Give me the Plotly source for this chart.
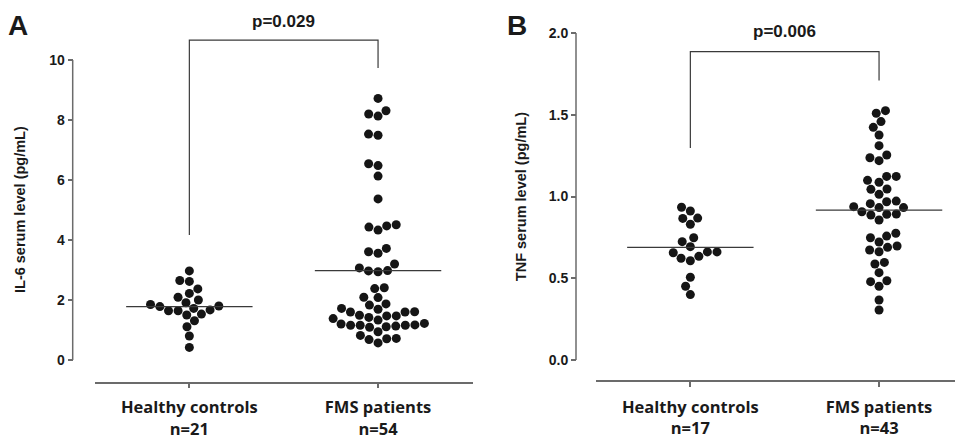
import numpy as np
import plotly.graph_objects as go

# ---------------- data ----------------
categories = ["Healthy controls", "FMS patients"]
il6_ticktext = ["Healthy controls<br>n=21", "FMS patients<br>n=54"]
tnf_ticktext = ["Healthy controls<br>n=17", "FMS patients<br>n=43"]

il6_healthy = [2.97, 2.65, 2.62, 2.37, 2.22, 2.09, 2.00, 1.91, 1.85, 1.80, 1.78,
               1.64, 1.53, 1.50, 1.64, 1.67, 1.72, 1.31, 1.11, 0.80, 0.42]
il6_fms = [8.72, 8.20, 8.13, 8.31, 7.49, 7.53, 6.54, 6.48, 6.13, 5.37,
           4.47, 4.33, 4.43, 4.51, 3.61, 3.56, 3.72, 3.20,
           2.98, 2.94, 2.97, 3.07, 2.38, 2.41, 2.08, 2.09,
           1.87, 1.72, 1.69, 1.83,
           1.61, 1.60, 1.49, 1.42, 1.33, 1.38, 1.47, 1.47, 1.60,
           1.22, 1.17, 1.16, 1.13, 1.09, 0.94, 1.11, 1.16, 1.16, 1.20,
           0.82, 0.71, 0.57, 0.68, 0.72]
tnf_healthy = [0.934, 0.911, 0.868, 0.866, 0.830, 0.724, 0.748, 0.693, 0.661,
               0.634, 0.607, 0.622, 0.656, 0.661, 0.506, 0.451, 0.400]
tnf_fms = [1.525, 1.509, 1.458, 1.423, 1.376, 1.311, 1.237, 1.219, 1.254,
           1.123, 1.087, 1.099, 1.123, 1.044, 1.013, 1.046,
           0.968, 0.938, 0.932, 0.932, 0.956, 0.972,
           0.893, 0.887, 0.856, 0.891, 0.907,
           0.758, 0.722, 0.748, 0.775, 0.697, 0.673, 0.662, 0.689,
           0.587, 0.597, 0.534, 0.485, 0.451, 0.479, 0.367, 0.306]

il6_medians = [1.78, 2.98]
tnf_medians = [0.689, 0.917]

il6_tickvals = [0, 2, 4, 6, 8, 10]
tnf_tickvals = [0.0, 0.5, 1.0, 1.5, 2.0]
tnf_ticklabels = ["0.0", "0.5", "1.0", "1.5", "2.0"]

p_texts = ["p=0.029", "p=0.006"]
# bracket: [left leg bottom, bar height, right leg bottom, text height]
il6_bracket = [4.17, 10.66, 9.73, 11.28]
tnf_bracket = [1.297, 1.886, 1.71, 2.01]

# ---------------- layout geometry (page pixels) ----------------
PAGE_W, PAGE_H = 963, 442
OFF = 8                      # default body margin of the html page
W, H = PAGE_W - OFF, PAGE_H - OFF
TXT = "#1a1a1a"
AX = "#6b6b6b"
DOT = "#151515"
DIAM = 9.6
MSIZE = 9
MED_HALF = 0.335


def px(xp):
    return (xp - OFF) / W


def py(yp):
    return 1 - (yp - OFF) / H


# panel A
A_x0, A_x1 = 95, 473          # x-axis line extent
A_yaxis_x = 72.7              # y axis position
A_zero_px, A_ppu = 360, 30.0  # pixel of value 0 and px per unit
A_bot_px, A_top_px = 381.7, 12
# panel B
B_x0, B_x1 = 596, 963
B_yaxis_x = 576
B_zero_px, B_ppu = 360, 163.5
B_bot_px, B_top_px = 380, 12
X_PPU = 188.7


def swarm_offsets(values, ppu_y, ppu_x, diam):
    vals = np.asarray(values, float)
    order = np.argsort(vals, kind="stable")
    placed = []
    xs = np.zeros(len(vals))
    for i in order:
        y = vals[i] * ppu_y
        cands = [0.0]
        for xj, yj in placed:
            dy = abs(y - yj)
            if dy < diam:
                dx = np.sqrt(diam ** 2 - dy ** 2)
                cands.extend([xj + dx, xj - dx])
        cands.sort(key=lambda c: (abs(c), c))
        chosen = 0.0
        for c in cands:
            if all((c - xj) ** 2 + (y - yj) ** 2 >= diam ** 2 - 1e-6 for xj, yj in placed):
                chosen = c
                break
        xs[i] = chosen / ppu_x
        placed.append((chosen, y))
    return xs


fig = go.Figure()


def add_group(vals, idx, ppu_y, xa, ya):
    off = swarm_offsets(vals, ppu_y, X_PPU, DIAM)
    fig.add_trace(go.Scatter(
        x=idx + off, y=vals, mode="markers", xaxis=xa, yaxis=ya,
        marker=dict(size=MSIZE, color=DOT, line=dict(width=0)),
        cliponaxis=False, hoverinfo="skip", showlegend=False))


add_group(il6_healthy, 0, A_ppu, "x", "y")
add_group(il6_fms, 1, A_ppu, "x", "y")
add_group(tnf_healthy, 0, B_ppu, "x2", "y2")
add_group(tnf_fms, 1, B_ppu, "x2", "y2")

shapes = []
annotations = []


def panel_extras(medians, bracket, ptxt, xr, yr, yaxis_x, tickmax, title, title_x, letter, letter_x):
    for i, m in enumerate(medians):
        shapes.append(dict(type="line", xref=xr, yref=yr, x0=i - MED_HALF, x1=i + MED_HALF,
                           y0=m, y1=m, line=dict(color="#3a3a3a", width=1.3)))
    lb, top, rb, ty = bracket
    shapes.append(dict(type="path", xref=xr, yref=yr,
                       path=f"M 0,{lb} L 0,{top} L 1,{top} L 1,{rb}",
                       line=dict(color="#3a3a3a", width=1.2)))
    # y axis line from 0 to max tick
    shapes.append(dict(type="line", xref="paper", yref=yr, x0=px(yaxis_x), x1=px(yaxis_x),
                       y0=0, y1=tickmax, line=dict(color=AX, width=1.5)))
    annotations.append(dict(text=f"<b>{ptxt}</b>", xref=xr, yref=yr, x=0.5, y=ty,
                            xanchor="center", yanchor="middle", showarrow=False,
                            font=dict(family="Liberation Sans", size=17, color=TXT)))
    annotations.append(dict(text=f"<b>{title}</b>", xref="paper", yref=yr, x=px(title_x),
                            y=tickmax / 2, textangle=-90, xanchor="center", yanchor="middle",
                            showarrow=False,
                            font=dict(family="Liberation Sans", size=14.5, color=TXT)))
    annotations.append(dict(text=f"<b>{letter}</b>", xref="paper", yref="paper",
                            x=px(letter_x), y=py(25), xanchor="center", yanchor="middle",
                            showarrow=False,
                            font=dict(family="Liberation Sans", size=28, color=TXT)))


panel_extras(il6_medians, il6_bracket, p_texts[0], "x", "y", A_yaxis_x, il6_tickvals[-1],
             "IL-6 serum level (pg/mL)", 20, "A", 17.5)
panel_extras(tnf_medians, tnf_bracket, p_texts[1], "x2", "y2", B_yaxis_x, tnf_tickvals[-1],
             "TNF serum level (pg/mL)", 521.7, "B", 517)

catfont = dict(family="Open Sans", size=16.5, color=TXT, weight="bold")
numfont = dict(family="Liberation Sans", size=14, color=TXT, weight="bold")

xcommon = dict(showline=True, linecolor=AX, linewidth=1.5, ticks="outside",
               ticklen=5, tickwidth=1.5, tickcolor=AX, showgrid=False, zeroline=False,
               tickvals=[0, 1], tickfont=catfont, fixedrange=True, automargin=False)
ycommon = dict(anchor="free", showline=False, ticks="outside", ticklen=5, tickwidth=1.5,
               tickcolor=AX, showgrid=False, zeroline=False, tickfont=numfont, fixedrange=True,
               automargin=False)

xa = dict(xcommon); xa.update(domain=[px(A_x0), px(A_x1)], range=[-0.5, -0.5 + (A_x1 - A_x0) / X_PPU],
                              anchor="y", ticktext=il6_ticktext, ticklabelstandoff=5)
xb = dict(xcommon); xb.update(domain=[px(B_x0), min(1.0, px(B_x1))],
                              range=[-0.5, -0.5 + (min(B_x1, OFF + W) - B_x0) / X_PPU],
                              anchor="y2", ticktext=tnf_ticktext, ticklabelstandoff=6)
ya = dict(ycommon); ya.update(domain=[py(A_bot_px), py(A_top_px)],
                              range=[-(A_bot_px - A_zero_px) / A_ppu, (A_zero_px - A_top_px) / A_ppu],
                              position=px(A_yaxis_x), tickvals=il6_tickvals)
yb = dict(ycommon); yb.update(domain=[py(B_bot_px), py(B_top_px)],
                              range=[-(B_bot_px - B_zero_px) / B_ppu, (B_zero_px - B_top_px) / B_ppu],
                              position=px(B_yaxis_x), tickvals=tnf_tickvals, ticktext=tnf_ticklabels)

fig.update_layout(
    width=W, height=H, margin=dict(l=0, r=0, t=0, b=0, pad=0),
    paper_bgcolor="white", plot_bgcolor="white",
    xaxis=xa, yaxis=ya, xaxis2=xb, yaxis2=yb,
    shapes=shapes, annotations=annotations, showlegend=False,
)

fig.write_html("out.html")
